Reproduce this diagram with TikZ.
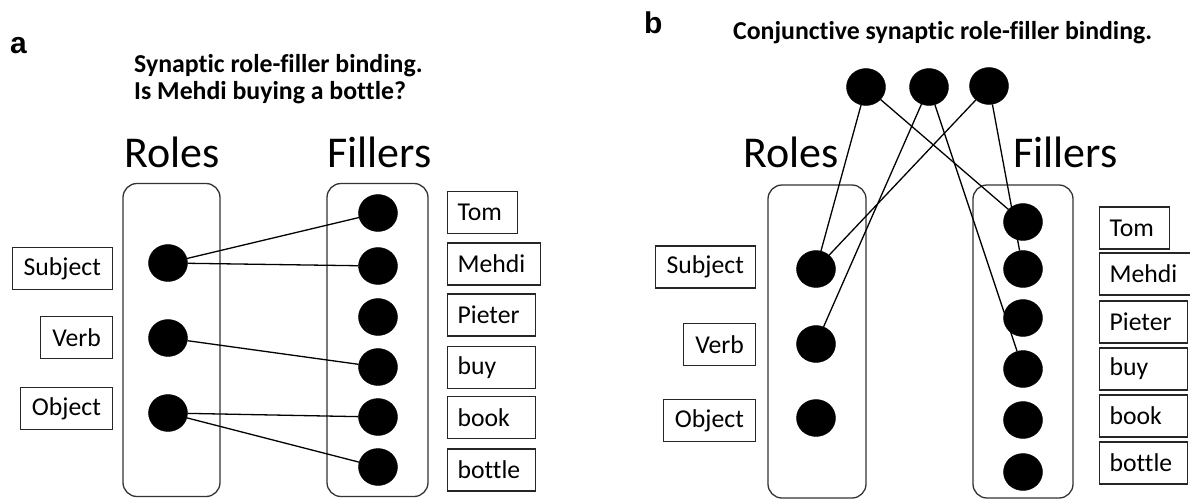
\documentclass[tikz,border=0pt]{standalone}
\usepackage{fontspec}
\setmainfont{Carlito}[Ligatures={NoCommon,NoContextual}]
\newfontfamily\panelfont{Liberation Sans}
\usetikzlibrary{shapes.geometric}
\begin{document}
\begin{tikzpicture}[x=1pt,y=-1pt,
  dot/.style={ellipse, fill=black, draw=black, minimum width=39pt, minimum height=37pt, inner sep=0pt},
  group/.style={draw=black!80, line width=1.3pt, rounded corners=14pt, minimum width=#1, minimum height=313pt, inner sep=0pt},
  lbox/.style={draw=black!85, line width=1.2pt, anchor=east, inner xsep=11.5pt, inner ysep=0pt, minimum height=42pt, font=\fontsize{25.7}{30}\selectfont},
  rbox/.style={draw=black!85, line width=1.2pt, anchor=west, text width=#1, align=left, inner xsep=10pt, inner ysep=0pt, minimum height=42pt, font=\fontsize{25.7}{30}\selectfont},
  rbox/.default=68pt,
  head/.style={anchor=base west, inner sep=0pt, font=\fontsize{44}{50}\selectfont},
  title/.style={anchor=base west, inner sep=0pt, font=\bfseries\fontsize{25.8}{30}\selectfont},
  panel/.style={anchor=base west, inner sep=0pt, font=\panelfont\bfseries\fontsize{30}{34}\selectfont},
  link/.style={draw=black, line width=1.3pt}
]
\useasboundingbox (0,0) rectangle (1190,499);

% ---------- panel a ----------
\node[panel] (pa) at (10,53) {a};
\node[title] (ta1) at (134,72) {Synaptic role-filler binding.};
\node[title] (ta2) at (134,99) {Is Mehdi buying a bottle?};
\node[head] (ra) at (124,167) {Roles};
\node[head] (fa) at (327,167) {Fillers};
\node[group=97pt] (gra) at (171.5,340) {};
\node[group=101pt] (gfa) at (377.5,340) {};

\node[dot] (as) at (168,263) {};
\node[dot] (av) at (168,338) {};
\node[dot] (ao) at (168,413) {};
\node[dot] (af1) at (378,213) {};
\node[dot] (af2) at (378,266) {};
\node[dot] (af3) at (378,317) {};
\node[dot] (af4) at (378,367) {};
\node[dot] (af5) at (378,417) {};
\node[dot] (af6) at (378,467) {};

\node[lbox] (las) at (113,268.5) {Subject};
\node[lbox] (lav) at (113,337.5) {Verb};
\node[lbox] (lao) at (113,408.5) {Object};

\node[rbox=50pt] (lat) at (447,212.5) {Tom};
\node[rbox=73pt] (lam) at (447,264) {Mehdi};
\node[rbox] (lap) at (447,315) {Pieter};
\node[rbox] (lab) at (447,367.5) {buy};
\node[rbox] (lak) at (447,417.5) {book};
\node[rbox] (lal) at (447,470) {bottle};

\draw[link] (as) -- (af1);
\draw[link] (as) -- (af2);
\draw[link] (av) -- (af4);
\draw[link] (ao) -- (af5);
\draw[link] (ao) -- (af6);

% ---------- panel b ----------
\node[panel] (pb) at (644,33) {b};
\node[title] (tb) at (733,39) {Conjunctive synaptic role-filler binding.};
\node[head] (rb) at (743,167) {Roles};
\node[head] (fb) at (1013,167) {Fillers};
\node[group=98pt] (grb) at (817,341.5) {};
\node[group=100pt] (gfb) at (1023,341.5) {};

\node[dot] (t1) at (866,87) {};
\node[dot] (t2) at (929,87) {};
\node[dot] (t3) at (989,86) {};

\node[dot] (bs) at (816,269) {};
\node[dot] (bv) at (816,344) {};
\node[dot] (bo) at (816,418) {};
\node[dot] (bf1) at (1023,222) {};
\node[dot] (bf2) at (1023,269) {};
\node[dot] (bf3) at (1023,318) {};
\node[dot] (bf4) at (1023,369) {};
\node[dot] (bf5) at (1023,420) {};
\node[dot] (bf6) at (1023,472) {};

\node[lbox] (lbs) at (756,267) {Subject};
\node[lbox] (lbv) at (756,344.5) {Verb};
\node[lbox] (lbo) at (756,420.5) {Object};

\node[rbox=50pt] (lbt) at (1099,228) {Tom};
\node[rbox=73pt] (lbm) at (1099,274) {Mehdi};
\node[rbox] (lbp) at (1099,322) {Pieter};
\node[rbox] (lbb) at (1099,369) {buy};
\node[rbox] (lbk) at (1099,416) {book};
\node[rbox] (lbl) at (1099,463) {bottle};

\draw[link] (t1) -- (bs);
\draw[link] (t1) -- (bf1);
\draw[link] (t2) -- (bv);
\draw[link] (t2) -- (bf4);
\draw[link] (t3) -- (bs);
\draw[link] (t3) -- (bf2);
\end{tikzpicture}
\end{document}
